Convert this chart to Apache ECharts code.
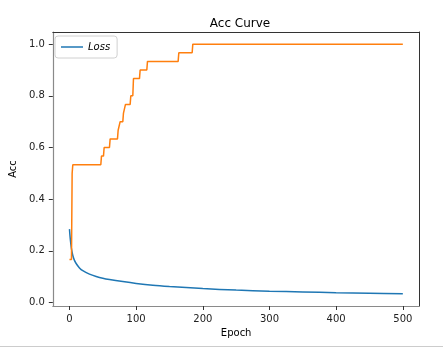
<!DOCTYPE html>
<html>
<head>
<meta charset="utf-8">
<script src="https://cdn.jsdelivr.net/npm/echarts@6/dist/echarts.min.js"></script>
<style>html,body{margin:0;padding:0;background:#fff;}#c{width:443px;height:349px;}</style>
</head>
<body>
<div id="c"></div>
<script>
// Loss curve: [epoch, value]
var lossPoints = [
  [0,0.284],[1,0.252],[2,0.228],[3,0.208],[5,0.182],[7,0.166],[10,0.151],[15,0.134],
  [20,0.123],[30,0.110],[40,0.101],[50,0.094],[60,0.089],[80,0.081],[100,0.074],
  [125,0.067],[150,0.062],[175,0.058],[200,0.054],[250,0.048],[300,0.044],
  [350,0.041],[400,0.038],[450,0.036],[500,0.034]
];
// Acc curve (step-like): [epoch, value]
var accPoints = [
  [0,0.1667],[3,0.1667],[4,0.5],[5,0.5333],[47,0.5333],[48,0.5667],[51,0.5667],[52,0.6],
  [60,0.6],[61,0.6333],[72,0.6333],[73,0.6667],[75,0.6667],[76,0.7],[80,0.7],[81,0.7333],
  [83,0.7333],[84,0.7667],[91,0.7667],[92,0.8],[95,0.8],[96,0.8667],[105,0.8667],[106,0.9],
  [116,0.9],[117,0.9333],[163,0.9333],[164,0.9667],[184,0.9667],[185,1.0],[500,1.0]
];
var xTicks = [0,100,200,300,400,500];
var yTicks = [0,0.2,0.4,0.6,0.8,1.0];

var font = 'DejaVu Sans';
var chart = echarts.init(document.getElementById('c'));
chart.setOption({
  animation: false,
  textStyle: {fontFamily: font},
  title: {
    text: 'Acc Curve', left: 235, top: 13, textAlign: 'center',
    textStyle: {fontFamily: font, fontSize: 12, fontWeight: 'normal', color: '#000'}
  },
  legend: {
    data: [{name: 'Loss', icon: 'rect', itemStyle: {color: '#1f77b4'}}], left: 55, top: 36, orient: 'vertical',
    itemWidth: 22, itemHeight: 1.5, itemGap: 4,
    borderColor: '#d0d0d0', borderWidth: 1, borderRadius: 3, padding: [6, 7, 6, 6],
    textStyle: {fontFamily: font, fontSize: 10, fontStyle: 'italic', color: '#000'}
  },
  grid: {left: 50, right: 23.5, top: 32, bottom: 43},
  xAxis: [{
    type: 'value', min: -25, max: 525,
    name: 'Epoch', nameLocation: 'middle', nameGap: 21,
    nameTextStyle: {fontFamily: font, fontSize: 10, color: '#000'},
    axisLine: {show: true, onZero: false, lineStyle: {color: '#8a8a8a', width: 1.2}},
    axisTick: {show: true, customValues: xTicks, length: 4, lineStyle: {color: '#333'}},
    axisLabel: {customValues: xTicks, margin: 8, fontFamily: font, fontSize: 10, color: '#222'},
    splitLine: {show: false}
  }, {
    type: 'value', min: -25, max: 525, position: 'top',
    axisLine: {show: true, onZero: false, lineStyle: {color: '#333', width: 1}},
    axisTick: {show: false}, axisLabel: {show: false}, splitLine: {show: false}
  }],
  yAxis: [{
    type: 'value', min: -0.0135, max: 1.047,
    name: 'Acc', nameLocation: 'middle', nameGap: 31,
    nameTextStyle: {fontFamily: font, fontSize: 10, color: '#000'},
    axisLine: {show: true, onZero: false, lineStyle: {color: '#8a8a8a', width: 1.2}},
    axisTick: {show: true, customValues: yTicks, length: 4, lineStyle: {color: '#333'}},
    axisLabel: {customValues: yTicks, margin: 8, fontFamily: font, fontSize: 10, color: '#222',
      formatter: function(v){ return v.toFixed(1); }},
    splitLine: {show: false}
  }, {
    type: 'value', min: -0.0135, max: 1.047, position: 'right',
    axisLine: {show: true, onZero: false, lineStyle: {color: '#333', width: 1}},
    axisTick: {show: false}, axisLabel: {show: false}, splitLine: {show: false}
  }],
  series: [{
    name: 'Loss', type: 'line', data: lossPoints, showSymbol: false, smooth: 0.3,
    lineStyle: {color: '#1f77b4', width: 1.5}, itemStyle: {color: '#1f77b4'}
  }, {
    name: 'Acc', type: 'line', data: accPoints, showSymbol: false,
    lineStyle: {color: '#ff7f0e', width: 1.5}, itemStyle: {color: '#ff7f0e'}
  }],
  graphic: [{
    type: 'line', shape: {x1: 0, y1: 346.5, x2: 443, y2: 346.5},
    style: {stroke: '#cccccc', lineWidth: 1}
  }]
});
</script>
</body>
</html>
